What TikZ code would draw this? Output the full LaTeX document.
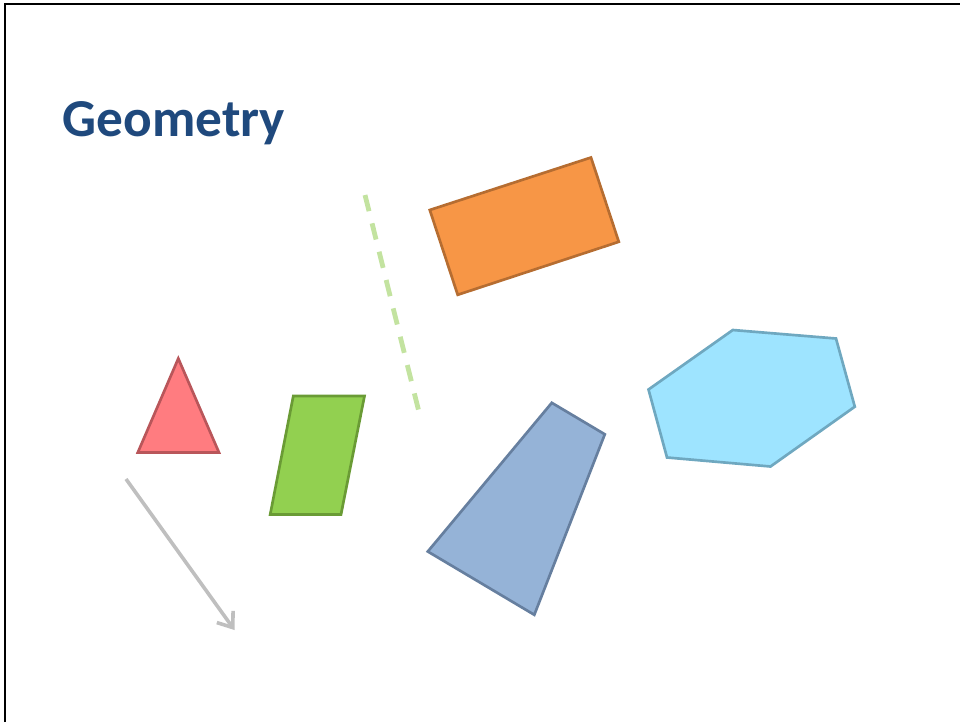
\documentclass[tikz,border=0pt]{standalone}
\usepackage{fontspec}
\setmainfont{Carlito}
\usetikzlibrary{arrows.meta}
\definecolor{titleblue}{HTML}{1F497D}
\definecolor{trifill}{HTML}{FF7C80}
\definecolor{tridraw}{HTML}{B9565A}
\definecolor{grfill}{HTML}{92D050}
\definecolor{grdraw}{HTML}{6A9B35}
\definecolor{orfill}{HTML}{F79646}
\definecolor{ordraw}{HTML}{B66D31}
\definecolor{blfill}{HTML}{95B3D7}
\definecolor{bldraw}{HTML}{667F9F}
\definecolor{cyfill}{HTML}{9EE4FF}
\definecolor{cydraw}{HTML}{6FA8C0}
\definecolor{arrgray}{HTML}{BFBFBF}
\definecolor{dashgreen}{HTML}{C3E3A0}
\tikzset{
  shapeline/.style={line width=2pt, line join=miter},
}
\begin{document}
\begin{tikzpicture}[x=0.75pt,y=-0.75pt]
\useasboundingbox (0,0) rectangle (960,722);
% frame (left and top edges)
\draw[line width=1.6pt] (5,722) -- (5,4) -- (960,4);
% title
\node[anchor=base west, inner sep=0pt, text=titleblue, font=\fontsize{40}{48}\selectfont\bfseries] (title) at (62.5,136) {Geometry};
% triangle
\draw[shapeline, fill=trifill, draw=tridraw] (178.3,358.5) -- (219,452.5) -- (137.8,452.5) -- cycle;
% parallelogram
\draw[shapeline, fill=grfill, draw=grdraw] (293.3,396) -- (364.5,396) -- (341,514.5) -- (270.2,514.5) -- cycle;
% orange rectangle
\draw[shapeline, fill=orfill, draw=ordraw] (429.8,210) -- (591,157.5) -- (618.8,241.8) -- (457.7,294.8) -- cycle;
% blue trapezoid
\draw[shapeline, fill=blfill, draw=bldraw] (551.8,402.8) -- (604.8,434.3) -- (534.3,614.8) -- (427.8,551.5) -- cycle;
% hexagon
\draw[shapeline, fill=cyfill, draw=cydraw] (732.8,330) -- (836,338.5) -- (854.8,406.7) -- (770.5,466.5) -- (667,457.5) -- (648.5,389.5) -- cycle;
% dashed line
\coordinate (d1) at (365,195);
\coordinate (d2) at (418.5,410);
\draw[dashgreen, line width=3.6pt, dash pattern=on 12.5pt off 9.4pt] (d1) -- (d2);
% arrow
\coordinate (a1) at (126,479);
\coordinate (a2) at (234.5,630);
\draw[arrgray, line width=2.7pt, -{Straight Barb[length=10pt, width=15pt, line width=2.7pt]}] (a1) -- (a2);
\end{tikzpicture}
\end{document}
